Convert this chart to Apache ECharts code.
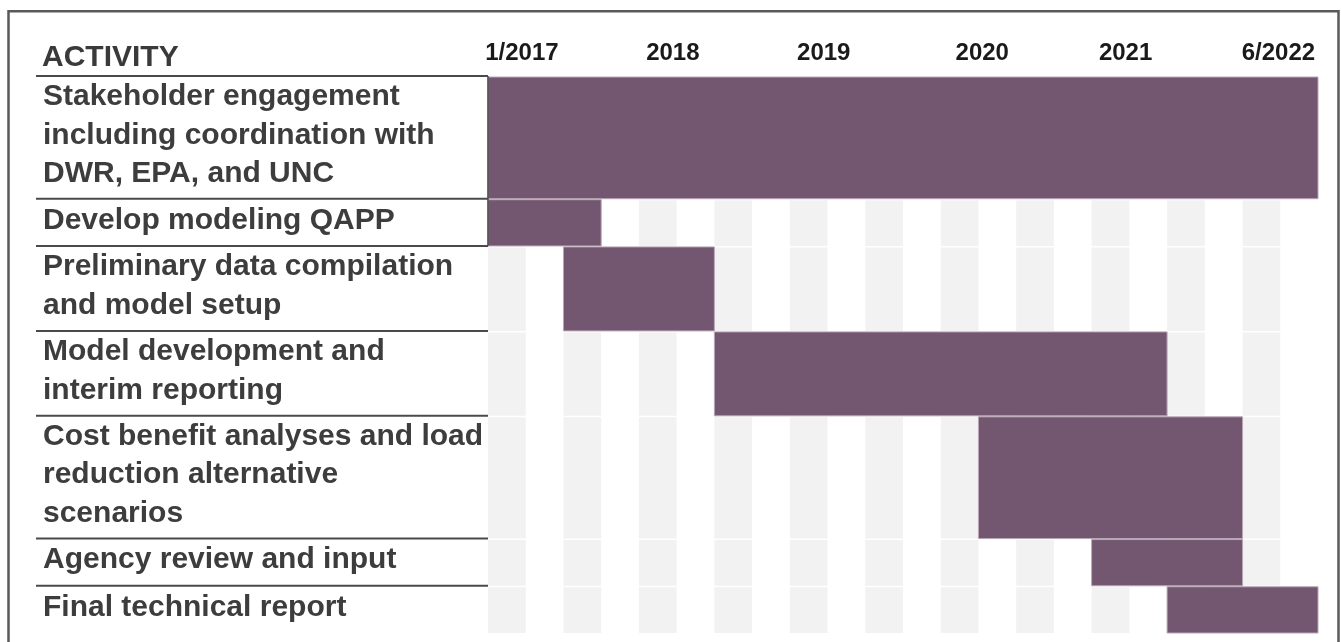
<!DOCTYPE html>
<html>
<head>
<meta charset="utf-8">
<script src="https://cdn.jsdelivr.net/npm/echarts@6/dist/echarts.min.js"></script>
<style>
html,body{margin:0;padding:0;background:#fff;}
#chart{width:1341px;height:642px;}
</style>
</head>
<body>
<div id="chart"></div>
<script>
// ---- data ----
const activities = [
  'Stakeholder engagement\nincluding coordination with\nDWR, EPA, and UNC',
  'Develop modeling QAPP',
  'Preliminary data compilation\nand model setup',
  'Model development and\ninterim reporting',
  'Cost benefit analyses and load\nreduction alternative\nscenarios',
  'Agency review and input',
  'Final technical report'
];
// quarters counted from January 2017
const startQuarter = [0, 0, 2, 6, 13, 16, 18];
const endQuarter   = [22, 3, 6, 18, 20, 20, 22];
const tickLabels   = ['1/2017', '2018', '2019', '2020', '2021', '6/2022'];
const tickQuarter  = [0.9, 4.9, 8.9, 13.1, 16.9, 20.95];
const totalQuarters = 22;

// ---- layout helpers (row size from number of text lines) ----
const LINE = 37.85, PAD = 9.5;
const rowStart = [], rowEnd = [];
let acc = 0;
activities.forEach(function (a) {
  const n = a.split('\n').length;
  rowStart.push(acc);
  acc += n * LINE + PAD;
  rowEnd.push(acc);
});
const totalRows = acc;

const FONT = '"Liberation Sans", Arial, sans-serif';
const rows = activities.map(function (a, i) {
  return [startQuarter[i], endQuarter[i], rowStart[i], rowEnd[i]];
});

const chart = echarts.init(document.getElementById('chart'), null, {renderer: 'canvas'});
chart.setOption({
  animation: false,
  backgroundColor: '#fff',
  title: {
    text: 'ACTIVITY',
    left: 42, top: 43, padding: 0,
    textStyle: {fontFamily: FONT, fontWeight: 'bold', fontSize: 30, color: '#3a3a3a'}
  },
  graphic: [{
    type: 'rect', silent: true,
    shape: {x: 8.5, y: 11.3, width: 1330, height: 700},
    style: {fill: 'none', stroke: '#5a5a5a', lineWidth: 2.5}
  }],
  grid: {left: 488, right: 23, top: 76, bottom: 9},
  xAxis: {
    type: 'value', position: 'top', min: 0, max: totalQuarters,
    axisLine: {show: false}, axisTick: {show: false}, splitLine: {show: false},
    axisLabel: {
      customValues: tickQuarter,
      margin: 11,
      fontFamily: FONT, fontWeight: 'bold', fontSize: 24, color: '#1a1a1a',
      formatter: function (v) {
        const k = tickQuarter.indexOf(v);
        return k >= 0 ? tickLabels[k] : '';
      }
    }
  },
  yAxis: {
    type: 'value', inverse: true, min: 0, max: totalRows, show: false
  },
  series: [{
    type: 'custom',
    clip: false,
    data: rows,
    renderItem: function (params, api) {
      const i = params.dataIndex;
      const s = api.value(0), e = api.value(1), y0 = api.value(2), y1 = api.value(3);
      const children = [];
      const top = api.coord([0, y0])[1];
      const bot = api.coord([0, y1])[1];
      const gx0 = api.coord([0, y0])[0];
      // quarter stripes
      for (let q = 0; q < totalQuarters; q += 2) {
        const a = api.coord([q, y0])[0];
        const b = api.coord([q + 1, y0])[0];
        children.push({
          type: 'rect',
          shape: {x: a, y: top + 1.5, width: b - a, height: bot - top - 1.5},
          style: {fill: '#f2f2f2'}
        });
      }
      // activity bar
      const xs = api.coord([s, y0])[0], xe = api.coord([e, y0])[0];
      children.push({
        type: 'rect',
        shape: {x: xs, y: top + 1, width: xe - xs, height: bot - top - 1},
        style: {fill: '#735670', stroke: '#b9a6b6', lineWidth: 1}
      });
      // separator line in label column
      children.push({
        type: 'line',
        shape: {x1: gx0 - 452, y1: top, x2: gx0, y2: top},
        style: {stroke: '#4a4a4a', lineWidth: 2}
      });
      if (i < 2) {
        children.push({
          type: 'line',
          shape: {x1: gx0, y1: top, x2: gx0, y2: bot},
          style: {stroke: '#4a4a4a', lineWidth: 1.5}
        });
      }
      // activity label
      children.push({
        type: 'text',
        style: {
          text: activities[i],
          x: gx0 - 445, y: (top + bot) / 2 - 2,
          fontFamily: FONT, fontWeight: 'bold', fontSize: 30,
          lineHeight: 38.5,
          fill: '#3d3d3d',
          align: 'left', verticalAlign: 'middle'
        }
      });
      return {type: 'group', children: children};
    }
  }]
});
</script>
</body>
</html>
